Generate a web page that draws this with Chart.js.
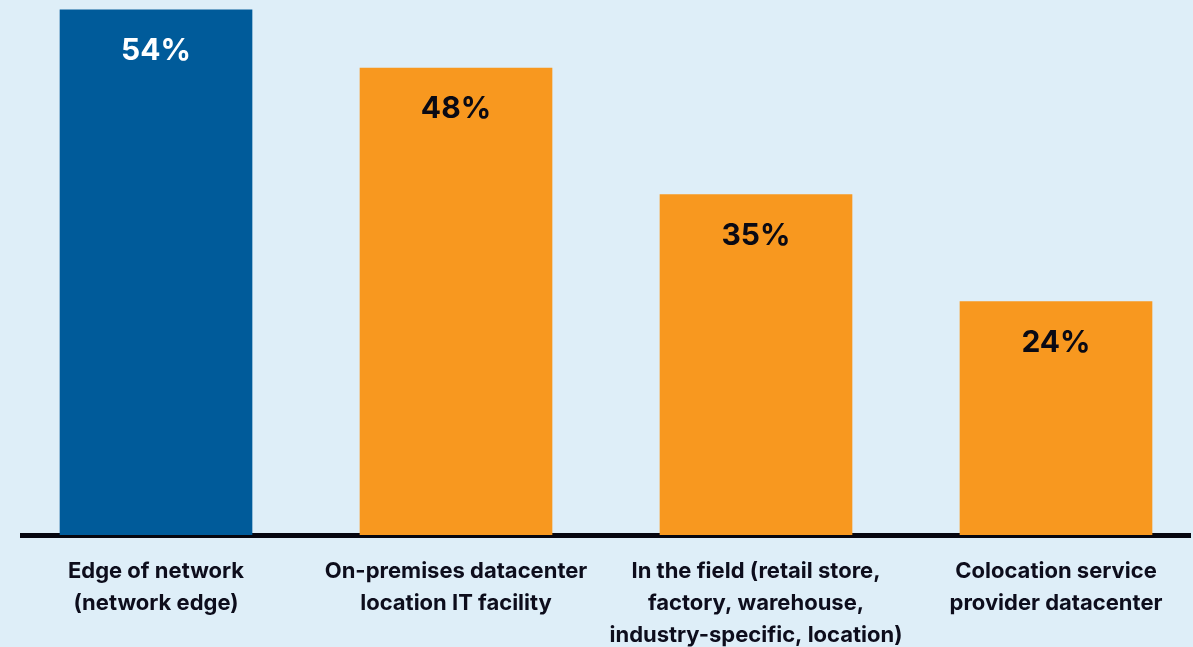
<!DOCTYPE html>
<html>
<head>
<meta charset="utf-8">
<script src="https://cdn.jsdelivr.net/npm/chart.js@4.4.1/dist/chart.umd.min.js"></script>
<style>
  html, body { margin: 0; padding: 0; background: #deeef8; overflow: hidden; }
  #wrap { width: 1193px; height: 647px; overflow: hidden; }
  canvas { display: block; }
</style>
</head>
<body>
<div id="wrap"><canvas id="c" width="1193" height="660"></canvas></div>
<script>
const categories = [
  ["Edge of network", "(network edge)"],
  ["On-premises datacenter", "location IT facility"],
  ["In the field (retail store,", "factory, warehouse,", "industry-specific, location)"],
  ["Colocation service", "provider datacenter"]
];
const values = [54, 48, 35, 24];
const valueLabels = ["54%", "48%", "35%", "24%"];
const barColors = ["#005b9a", "#f8981f", "#f8981f", "#f8981f"];
const valueColors = ["#ffffff", "#0a0a14", "#0a0a14", "#0a0a14"];

const FONT = "Inter, 'Open Sans', sans-serif";

const valuePlugin = {
  id: 'valueLabels',
  afterDatasetsDraw(chart) {
    const ctx = chart.ctx;
    const meta = chart.getDatasetMeta(0);
    ctx.save();
    ctx.font = "bold 30px " + FONT;
    ctx.textAlign = 'center';
    ctx.textBaseline = 'alphabetic';
    meta.data.forEach((bar, i) => {
      ctx.fillStyle = valueColors[i];
      ctx.fillText(valueLabels[i], bar.x, bar.y + 50);
    });
    ctx.restore();
  }
};

new Chart(document.getElementById('c'), {
  type: 'bar',
  data: {
    datasets: [{
      data: values.map((v, i) => ({ x: i, y: v })),
      backgroundColor: barColors,
      borderWidth: 0,
      barThickness: 192
    }]
  },
  options: {
    responsive: false,
    animation: false,
    layout: { padding: { left: 22, right: 3, top: 0, bottom: 0 } },
    plugins: { legend: { display: false }, tooltip: { enabled: false } },
    scales: {
      x: {
        type: 'linear',
        offset: false,
        min: -0.4467,
        max: 3.4467,
        z: 1,
        grid: { display: false, drawTicks: false, offset: false },
        border: { display: true, color: '#06060f', width: 5 },
        afterFit(scale) { scale.height = 125; },
        ticks: {
          stepSize: 1,
          includeBounds: false,
          autoSkip: false,
          maxRotation: 0,
          minRotation: 0,
          padding: 20,
          color: '#0d0d1c',
          font: { family: FONT, size: 22, weight: 'bold', lineHeight: 1.4545 },
          callback: (v) => categories[v] || ''
        }
      },
      y: {
        display: false,
        min: 0,
        max: 55
      }
    }
  },
  plugins: [valuePlugin]
});
</script>
</body>
</html>
